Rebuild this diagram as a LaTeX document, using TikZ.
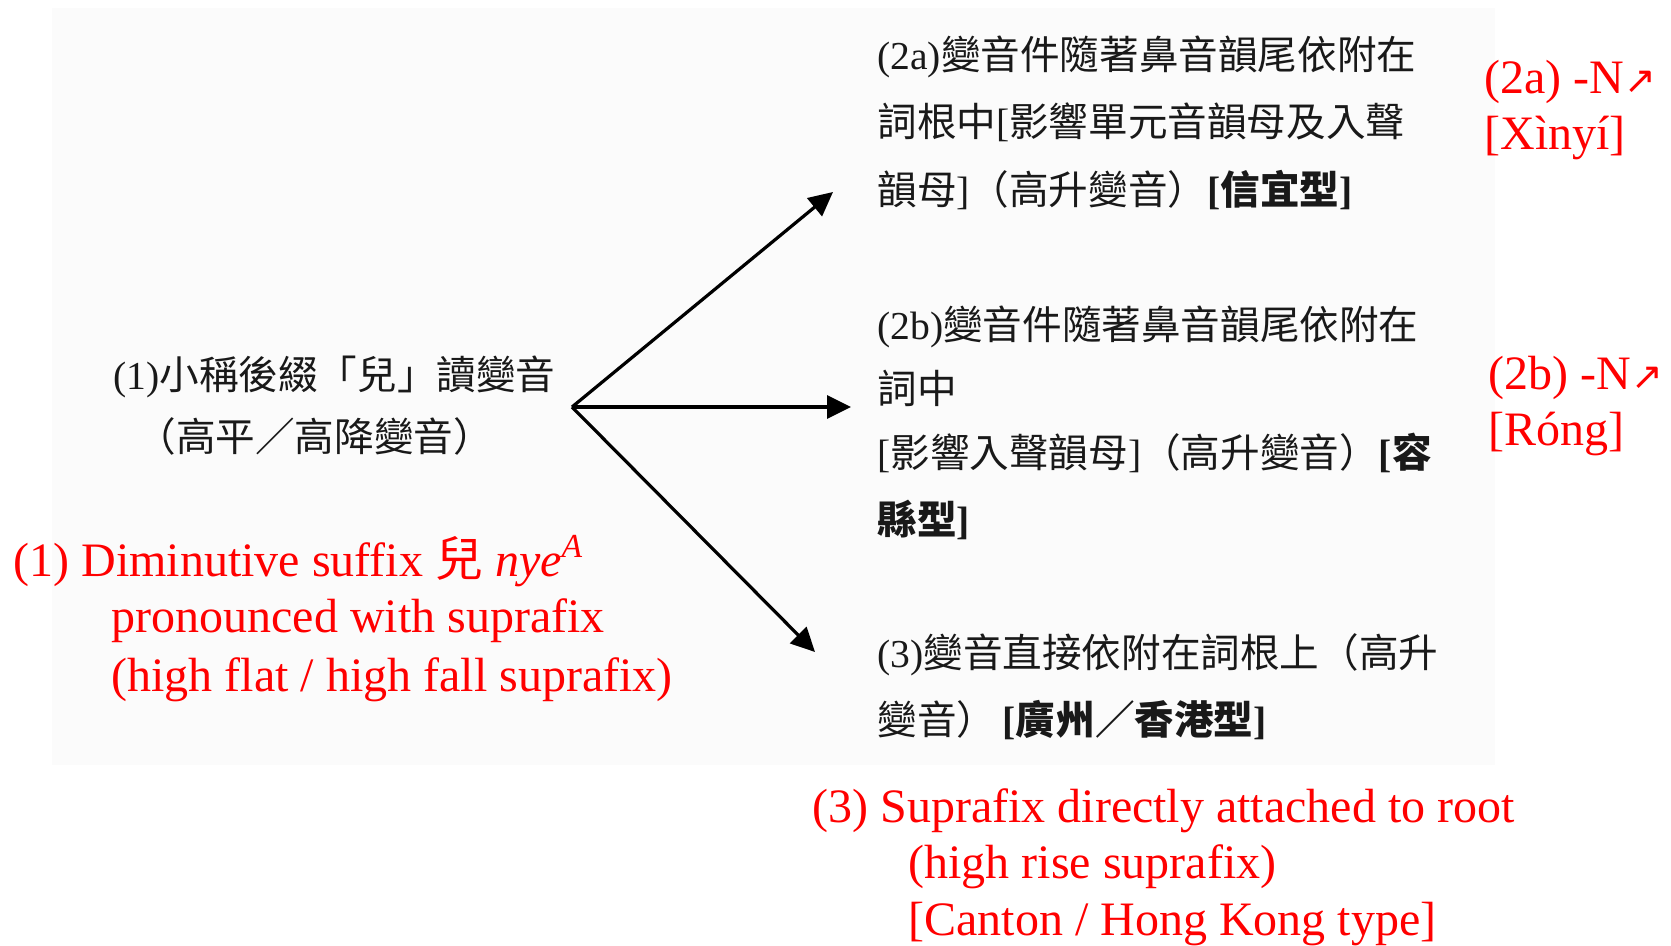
\documentclass[tikz,border=0pt]{standalone}
\usepackage{fontspec}
\setmainfont{Liberation Serif}
\newfontfamily\zhfont{Noto Sans CJK TC}
\newfontfamily\symfont{DejaVu Sans}
\usetikzlibrary{arrows.meta}
\newcommand\zh[1]{{\zhfont #1}}
\newcommand\nearr{{\symfont\fontsize{19}{19}\selectfont ↗}}
\begin{document}
\begin{tikzpicture}[x=0.5pt,y=-0.5pt,
  zhline/.style={anchor=base west, inner sep=0pt, text=black!90, font=\fontsize{19.8}{23}\selectfont},
  redline/.style={anchor=base west, inner sep=0pt, text=red, font=\fontsize{24}{28}\selectfont},
  arr/.style={line width=1.6pt, -{Triangle[length=12pt,width=11.5pt]}}]
\useasboundingbox (0,0) rectangle (1671,946);
\fill[black!1.5] (52,8) rectangle (1495,765);
% (1) Chinese
\node[zhline] (c1a) at (113,390) {(1)\zh{小稱後綴「兒」讀變音}};
\node[zhline] (c1b) at (136,452) {\zh{（高平／高降變音）}};
% (2a)
\node[zhline] (c2aa) at (877,70) {(2a)\zh{變音件隨著鼻音韻尾依附在}};
\node[zhline] (c2ab) at (877,137) {\zh{詞根中}[\zh{影響單元音韻母及入聲}};
\node[zhline] (c2ac) at (877,205) {\zh{韻母}]\zh{（高升變音）}\textbf{[\zh{信宜型}]}};
% (2b)
\node[zhline] (c2ba) at (877,340) {(2b)\zh{變音件隨著鼻音韻尾依附在}};
\node[zhline] (c2bb) at (877,404) {\zh{詞中}};
\node[zhline] (c2bc) at (877,468) {[\zh{影響入聲韻母}]\zh{（高升變音）}\textbf{[\zh{容}}};
\node[zhline] (c2bd) at (877,534) {\textbf{\zh{縣型}]}};
% (3)
\node[zhline] (c3a) at (877,667) {(3)\zh{變音直接依附在詞根上（高升}};
\node[zhline] (c3b) at (877,734) {\zh{變音）}\,\textbf{[\zh{廣州／香港型}]}};
% arrows
\coordinate (o) at (572,407);
\coordinate (t2a) at (833,192);
\coordinate (t2b) at (851,407);
\coordinate (t3) at (815,652);
\draw[arr] (o) -- (t2a);
\draw[arr] (o) -- (t2b);
\draw[arr] (o) -- (t3);
% red annotations
\node[redline] (r1a) at (13,576) {(1) Diminutive suffix \zh{兒} \textit{nye}\textsuperscript{\textit{A}}};
\node[redline] (r1b) at (111,632) {pronounced with suprafix};
\node[redline] (r1c) at (111,691) {(high flat / high fall suprafix)};
\node[redline] (r3a) at (812,822) {(3) Suprafix directly attached to root};
\node[redline] (r3b) at (908,878) {(high rise suprafix)};
\node[redline] (r3c) at (908,935) {[Canton / Hong Kong type]};
\node[redline] (r2aa) at (1484,94) {(2a) -N\nearr};
\node[redline] (r2ab) at (1484,150) {[Xìnyí]};
\node[redline] (r2ba) at (1488,390) {(2b) -N\nearr};
\node[redline] (r2bb) at (1488,446) {[Róng]};
\end{tikzpicture}
\end{document}
